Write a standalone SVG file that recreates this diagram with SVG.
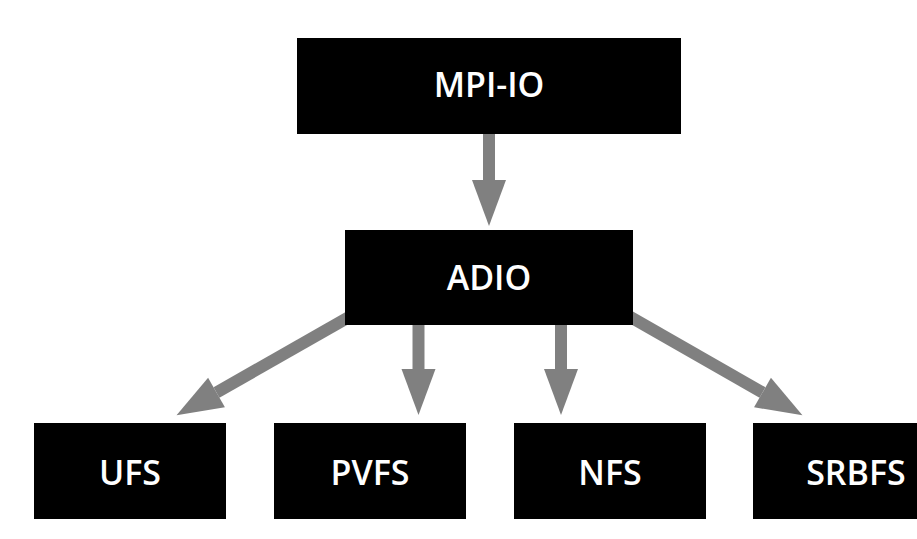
<svg xmlns="http://www.w3.org/2000/svg" width="917" height="539" viewBox="0 0 917 539">
  <style>
    .box { fill: #000000; }
    .label { fill: #ffffff; font-family: "Open Sans", "Liberation Sans", sans-serif; font-weight: 600; font-size: 34px; text-anchor: middle; }
    .link { stroke: #808080; stroke-width: 12; fill: none; }
  </style>
  <defs>
    <marker id="head" markerUnits="userSpaceOnUse" markerWidth="46" markerHeight="34" refX="0" refY="17" orient="auto" overflow="visible">
      <path d="M0,0 L46,17 L0,34 Z" fill="#808080"/>
    </marker>
  </defs>

  <!-- connectors: shafts end at the arrowhead base, the marker adds the head -->
  <g id="connectors">
    <line class="link" x1="489" y1="130" x2="489" y2="180" marker-end="url(#head)"/>
    <line class="link" x1="360" y1="310.8" x2="216.5" y2="392.5" marker-end="url(#head)"/>
    <line class="link" x1="418.5" y1="320" x2="418.5" y2="369" marker-end="url(#head)"/>
    <line class="link" x1="561" y1="320" x2="561" y2="369" marker-end="url(#head)"/>
    <line class="link" x1="619.5" y1="310.8" x2="762.5" y2="392.5" marker-end="url(#head)"/>
  </g>

  <g id="mpi-io">
    <rect class="box" x="297" y="38" width="384" height="96"/>
    <text class="label" x="489" y="97">MPI-IO</text>
  </g>
  <g id="adio">
    <rect class="box" x="345" y="230" width="288" height="95"/>
    <text class="label" x="489" y="290">ADIO</text>
  </g>
  <g id="ufs">
    <rect class="box" x="34" y="423" width="192" height="96"/>
    <text class="label" x="130" y="485">UFS</text>
  </g>
  <g id="pvfs">
    <rect class="box" x="274" y="423" width="192" height="96"/>
    <text class="label" x="370" y="485">PVFS</text>
  </g>
  <g id="nfs">
    <rect class="box" x="514" y="423" width="192" height="96"/>
    <text class="label" x="610" y="485">NFS</text>
  </g>
  <g id="srbfs">
    <rect class="box" x="753" y="423" width="192" height="96"/>
    <text class="label" x="856" y="485">SRBFS</text>
  </g>
</svg>
